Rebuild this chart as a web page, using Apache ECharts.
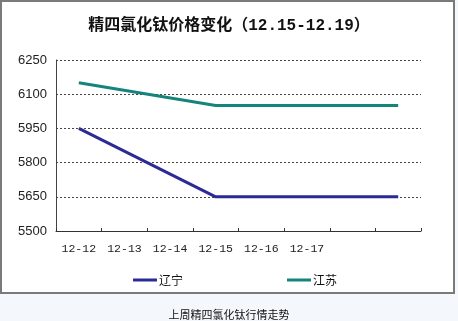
<!DOCTYPE html>
<html>
<head>
<meta charset="utf-8">
<script src="https://cdn.jsdelivr.net/npm/echarts@6/dist/echarts.min.js"></script>
<style>
html,body{margin:0;padding:0;background:#f4f7fc;}
#chart{width:458px;height:321px;}
</style>
</head>
<body>
<div id="chart"></div>
<script>
var titleText = '精四氯化钛价格变化（12.15-12.19）';
var captionText = '上周精四氯化钛行情走势';
var categories = ['12-12', '12-13', '12-14', '12-15', '12-16', '12-17', '', ''];
var seriesNames = ['辽宁', '江苏'];
var liaoning = [5950, null, null, 5650, 5650, 5650, 5650, 5650];
var jiangsu = [6150, null, null, 6050, 6050, 6050, 6050, 6050];
var yTicks = [5500, 5650, 5800, 5950, 6100, 6250];

var chart = echarts.init(document.getElementById('chart'), null, {renderer: 'canvas'});
var colors = ['#2b2b96', '#15847c'];
chart.setOption({
  backgroundColor: '#f4f7fc',
  animation: false,
  graphic: [
    {type: 'rect', z: -10, shape: {x: 1, y: 1, width: 453, height: 292},
     style: {fill: '#ffffff', stroke: '#7a7a7a', lineWidth: 2}},
    {type: 'text', left: 'center', top: 309,
     style: {text: captionText, font: '11px "Noto Sans CJK SC"', fill: '#111'}}
  ],
  title: {
    text: titleText, left: 'center', top: 13,
    textStyle: {fontFamily: '"Liberation Mono","Noto Sans CJK SC"', fontSize: 16, fontWeight: 'bold', color: '#111'}
  },
  legend: [
    {data: [seriesNames[0]], left: 128, top: 269, icon: 'rect', itemWidth: 24, itemHeight: 3, itemGap: 2,
     textStyle: {fontFamily: '"Noto Sans CJK SC"', fontSize: 12, color: '#111', padding: [0, 0, 0, -3]}},
    {data: [seriesNames[1]], left: 282, top: 269, icon: 'rect', itemWidth: 24, itemHeight: 3, itemGap: 2,
     textStyle: {fontFamily: '"Noto Sans CJK SC"', fontSize: 12, color: '#111', padding: [0, 0, 0, -3]}}
  ],
  grid: {left: 56, right: 37, top: 60, bottom: 90, containLabel: false},
  xAxis: {
    type: 'category', data: categories, boundaryGap: true,
    axisLine: {lineStyle: {color: '#333', width: 1}},
    axisTick: {show: true, inside: true, length: 3, lineStyle: {color: '#333'}},
    axisLabel: {margin: 12, color: '#222', fontFamily: '"Liberation Mono"', fontSize: 11.5, interval: 0},
    splitLine: {show: false}
  },
  yAxis: {
    type: 'value', min: 5500, max: 6250,
    axisLine: {show: true, lineStyle: {color: '#444', width: 1}},
    axisTick: {show: false, customValues: yTicks},
    axisLabel: {customValues: yTicks, margin: 9, color: '#222', fontFamily: '"Liberation Sans"', fontSize: 13,
      formatter: function (v) { return String(v); }},
    splitLine: {show: true, lineStyle: {color: '#444', type: [2, 2], width: 1}}
  },
  series: [
    {name: seriesNames[0], type: 'line', data: liaoning, connectNulls: true, showSymbol: false, symbol: 'none',
     lineStyle: {color: colors[0], width: 3}, itemStyle: {color: colors[0]}},
    {name: seriesNames[1], type: 'line', data: jiangsu, connectNulls: true, showSymbol: false, symbol: 'none',
     lineStyle: {color: colors[1], width: 3}, itemStyle: {color: colors[1]}}
  ]
});
</script>
</body>
</html>
